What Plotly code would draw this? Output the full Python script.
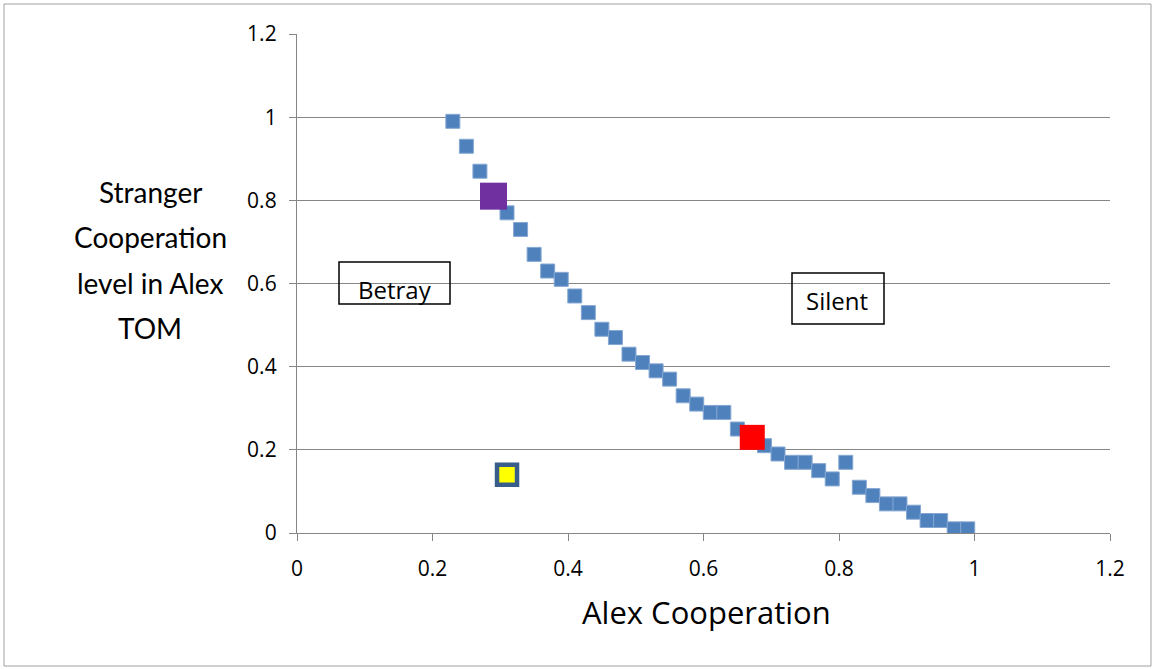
import plotly.graph_objects as go

# ---- data ----
alex_coop = [0.23, 0.25, 0.27, 0.29, 0.31, 0.33, 0.35, 0.37, 0.39, 0.41,
             0.43, 0.45, 0.47, 0.49, 0.51, 0.53, 0.55, 0.57, 0.59, 0.61,
             0.63, 0.65, 0.67, 0.69, 0.71, 0.73, 0.75, 0.77, 0.79, 0.81,
             0.83, 0.85, 0.87, 0.89, 0.91, 0.93, 0.95, 0.97, 0.99]
stranger_coop = [0.99, 0.93, 0.87, 0.81, 0.77, 0.73, 0.67, 0.63, 0.61, 0.57,
                 0.53, 0.49, 0.47, 0.43, 0.41, 0.39, 0.37, 0.33, 0.31, 0.29,
                 0.29, 0.25, 0.23, 0.21, 0.19, 0.17, 0.17, 0.15, 0.13, 0.17,
                 0.11, 0.09, 0.07, 0.07, 0.05, 0.03, 0.03, 0.01, 0.01]
purple_x, purple_y = [0.29], [0.81]
red_x, red_y = [0.672], [0.23]
yellow_x, yellow_y = [0.31], [0.14]

x_title = "Alex Cooperation"
y_title_lines = ["Stranger", "Cooperation", "level in Alex", "TOM"]
region_labels = ["Betray", "Silent"]

FONT = "Open Sans"
FONT_Y = "Lato"
W, H = 1155, 669
L, R, T, B = 297, 45, 34, 136
PW, PH = W - L - R, H - T - B


def px_x(p):
    return (p - L) / PW


def px_y(p):
    return (H - B - p) / PH


fig = go.Figure()
fig.add_trace(go.Scatter(
    x=alex_coop, y=stranger_coop, mode="markers",
    marker=dict(symbol="square", size=14, color="#4F81BD",
                line=dict(color="#86A8D3", width=1)),
    showlegend=False, hoverinfo="x+y"))
fig.add_trace(go.Scatter(
    x=purple_x, y=purple_y, mode="markers",
    marker=dict(symbol="square", size=27, color="#7030A0", line=dict(width=0)),
    showlegend=False))
fig.add_trace(go.Scatter(
    x=red_x, y=red_y, mode="markers",
    marker=dict(symbol="square", size=25, color="#FF0000", line=dict(width=0)),
    showlegend=False))
fig.add_trace(go.Scatter(
    x=yellow_x, y=yellow_y, mode="markers",
    marker=dict(symbol="square", size=20, color="#FFFF00",
                line=dict(color="#385D8A", width=4.5)),
    showlegend=False))

axis_common = dict(
    range=[0, 1.2], dtick=0.2, tick0=0,
    showline=True, linecolor="#868686", linewidth=1.3,
    ticks="outside", ticklen=7, tickcolor="#868686", tickwidth=1.3,
    tickfont=dict(family=FONT, size=21, color="black"),
    zeroline=False,
)
fig.update_xaxes(**axis_common, showgrid=False, ticklabelstandoff=10)
fig.update_yaxes(**axis_common, showgrid=True, gridcolor="#868686",
                 gridwidth=1.3, ticklabelstandoff=8)

shapes = [
    # outer chart border
    dict(type="rect", xref="paper", yref="paper",
         x0=px_x(4), x1=px_x(1151), y0=px_y(666), y1=px_y(4),
         line=dict(color="#A0A0A0", width=1), layer="below"),
    # Betray box
    dict(type="rect", xref="paper", yref="paper",
         x0=px_x(339), x1=px_x(450), y0=px_y(304), y1=px_y(262),
         line=dict(color="black", width=1.5)),
    # Silent box
    dict(type="rect", xref="paper", yref="paper",
         x0=px_x(792), x1=px_x(884), y0=px_y(324), y1=px_y(273),
         line=dict(color="black", width=1.5)),
]

annotations = [
    dict(text=x_title, xref="paper", yref="paper", x=px_x(706), y=px_y(612),
         xanchor="center", yanchor="middle", showarrow=False,
         font=dict(family=FONT, size=31, color="black")),
    dict(text=region_labels[0], xref="paper", yref="paper",
         x=px_x(395), y=px_y(289), xanchor="center", yanchor="middle",
         showarrow=False, font=dict(family=FONT, size=24, color="black")),
    dict(text=region_labels[1], xref="paper", yref="paper",
         x=px_x(837), y=px_y(300), xanchor="center", yanchor="middle",
         showarrow=False, font=dict(family=FONT, size=24, color="black")),
]
for i, line in enumerate(y_title_lines):
    annotations.append(dict(
        text=line, xref="paper", yref="paper", x=px_x(150),
        y=px_y(192 + 45.3 * i), xanchor="center", yanchor="middle",
        showarrow=False, font=dict(family=FONT_Y, size=28, color="black")))

fig.update_layout(
    width=W, height=H,
    margin=dict(l=L, r=R, t=T, b=B),
    paper_bgcolor="white", plot_bgcolor="white",
    shapes=shapes, annotations=annotations,
    font=dict(family=FONT),
)

fig.write_html(
    "out.html",
    config={"displayModeBar": False},
    post_script="document.body.style.margin='0';document.body.style.padding='0';",
)
